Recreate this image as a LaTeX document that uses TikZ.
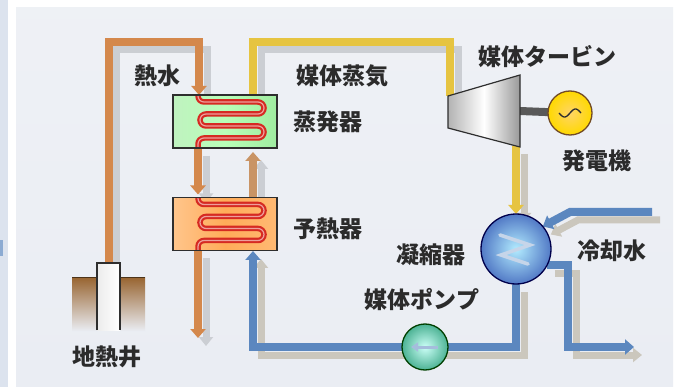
\documentclass[tikz,border=0pt]{standalone}
\usepackage{fontspec}
\newfontfamily\jp{Noto Sans CJK JP}
\usetikzlibrary{arrows.meta,calc}

\definecolor{panelc}{HTML}{EAEDF3}
\definecolor{stripc}{HTML}{DCE3EE}
\definecolor{hotc}{HTML}{D4884C}
\definecolor{medc}{HTML}{C99465}
\definecolor{vapc}{HTML}{E6C441}
\definecolor{bluec}{HTML}{5B87BF}
\definecolor{shadc}{HTML}{CBCED3}
\definecolor{shadtan}{HTML}{CBC7BD}
\definecolor{txtc}{HTML}{2B2B2B}
\definecolor{edgec}{HTML}{2E2E2E}
\definecolor{coilc}{HTML}{D62A22}

\tikzset{
  pipe/.style={line width=8pt, line cap=butt, line join=miter},
  shade pipe/.style={line width=7pt, line cap=butt, line join=miter, transform canvas={xshift=8pt, yshift=-8pt}},
  tipped/.style={-{Triangle[width=15pt,length=9pt]}},
  shtipped/.style={-{Triangle[width=14pt,length=9pt]}},
  hxbox/.style={draw=edgec, line width=1.2pt, minimum width=104pt, minimum height=53pt, inner sep=0pt, outer sep=0pt},
  coil/.style={draw=coilc, line width=5.5pt, rounded corners=6pt, line cap=butt},
  coillight/.style={draw=coilc!45!white, line width=1.2pt, rounded corners=6pt},
  lbl/.style={font=\jp\bfseries\fontsize{23}{25}\selectfont, text=txtc, inner sep=0pt},
  disc/.style={circle, draw=edgec, line width=1.3pt, inner sep=0pt, outer sep=0pt}
}

% serpentine tube inside a heat exchanger box
\newcommand\coilpath[1]{($(#1.north west)+(25,0)$) -- ++(0,7) -- ++(66,0) -- ++(0,12) -- ++(-64,0) -- ++(0,12) -- ++(64,0) -- ++(0,12) -- ++(-66,0) -- ++(0,10)}

\begin{document}
\begin{tikzpicture}[x=1pt,y=-1pt]
\useasboundingbox (0,0) rectangle (685,387);

% page and panel
\fill[white] (0,0) rectangle (685,387);
\fill[stripc] (0,0) rectangle (8,387);
\fill[bluec!70!white] (0,240) rectangle (3,256);
\shade[top color=panelc!80!white, bottom color=panelc] (16,8) rectangle (673,387);

% fixed points of the piping
\coordinate (hwB) at (199,42);
\coordinate (evapIn) at (199,95);
\coordinate (vapA) at (253,42);
\coordinate (vapB) at (450,42);
\coordinate (turbIn) at (450,96);
\coordinate (turbOut) at (516,146);
\coordinate (preBot) at (253,251);
\coordinate (cwIn) at (652,212);
\coordinate (cwBend) at (570,212);
\coordinate (cwDown) at (568,347);
\coordinate (cwOut) at (634,347);
\coordinate (hwOut) at (198,338);

% equipment nodes (drawn later, placed now)
\path (225,121.5) node[minimum width=104pt, minimum height=53pt, inner sep=0pt, outer sep=0pt] (evap) {};
\path (225,224) node[minimum width=104pt, minimum height=53pt, inner sep=0pt, outer sep=0pt] (pre) {};
\path (516,249) node[circle, minimum size=70pt, inner sep=0pt, outer sep=0pt] (cond) {};
\path (425,347) node[circle, minimum size=46pt, inner sep=0pt, outer sep=0pt] (pump) {};
\path (570,113) node[circle, minimum size=44pt, inner sep=0pt, outer sep=0pt] (gen) {};
\path (108.5,296.5) node[minimum width=23pt, minimum height=67pt, inner sep=0pt, outer sep=0pt] (well) {};

% ---- shadows of the pipes ----
\draw[shade pipe, draw=shadc, shtipped] (well.north) |- (hwB) -- (evapIn);
\draw[shade pipe, draw=shadc, shtipped] ($(evap.south west)+(25,0)$) -- ($(pre.north west)+(25,-3)$);
\draw[shade pipe, draw=shadc, shtipped] ($(pre.south west)+(25,0)$) -- (hwOut);
\draw[shade pipe, draw=shadc, shtipped] (pre.north -| preBot) -- ($(evap.south -| preBot)+(0,4)$);
\draw[shade pipe, draw=shadc] (evap.north -| vapA) -- (vapA) -- (vapB) -- (turbIn);
\draw[shade pipe, draw=shadtan, shtipped] (turbOut) -- (cond.north);
\draw[shade pipe, draw=shadtan, shtipped] (cond.south) |- (pump.center) -| (preBot);
\draw[shade pipe, draw=shadtan, shtipped] (cwIn) -- (cwBend) -- (cond.40);
\draw[shade pipe, draw=shadtan, shtipped] (cond.-28) -| (cwDown) -- (cwOut);

% ---- pipes ----
% hot water from the well to the evaporator, preheater and back down
\draw[pipe, draw=hotc, tipped] (well.north) |- (hwB) -- (evapIn);
\draw[pipe, draw=hotc, tipped] ($(evap.south west)+(25,0)$) -- ($(pre.north west)+(25,-3)$);
\draw[pipe, draw=hotc, tipped] ($(pre.south west)+(25,0)$) -- (hwOut);
% heated medium rising to the evaporator
\draw[pipe, draw=medc, tipped] (pre.north -| preBot) -- ($(evap.south -| preBot)+(0,4)$);
% medium vapour to the turbine and on to the condenser
\draw[pipe, draw=vapc] (evap.north -| vapA) -- (vapA) -- (vapB) -- (turbIn);
\draw[pipe, draw=vapc, tipped] (turbOut) -- (cond.north);
% condensate through the pump back to the preheater
\draw[pipe, draw=bluec, tipped] (cond.south) |- (pump.center) -| (preBot);
% cooling water
\draw[pipe, draw=bluec, tipped] (cwIn) -- (cwBend) -- (cond.40);
\draw[pipe, draw=bluec, tipped] (cond.-28) -| (cwDown) -- (cwOut);

% ---- heat exchangers ----
\node[hxbox, left color=green!22!white!90!gray, right color=green!35!white!85!gray, middle color=green!28!white] at (evap) {};
\node[hxbox, left color=orange!45!white, right color=orange!55!white, middle color=orange!65!white] at (pre) {};
\draw[coil] \coilpath{evap};
\draw[coillight] \coilpath{evap};
\draw[coil] \coilpath{pre};
\draw[coillight] \coilpath{pre};
\node[hxbox, draw=edgec, fill=none] at (evap) {};
\node[hxbox, draw=edgec, fill=none] at (pre) {};

% ---- turbine, shaft, generator ----
\draw[line width=8pt, draw=gray!70!black] (520,111) -- (gen.center);
\shade[left color=gray!60, right color=gray!80, middle color=white, draw=edgec, line width=1.2pt]
  (448,96) -- (520,75) -- (520,147) -- (448,128) -- cycle;
\node[disc, draw=brown!60!black, inner color=yellow!45!orange!60!white, outer color=yellow!70!orange, minimum size=44pt] at (gen) {};
\draw[line width=1.3pt, edgec] plot[domain=-11:11, samples=40] ({570+\x}, {113-4*sin(\x*16.4)});

% ---- condenser ----
\node[disc, draw=blue!30!black, inner color=blue!25!cyan!30!white, outer color=bluec!90!blue, minimum size=70pt] at (cond) {};
\draw[line width=3.5pt, draw=bluec!35!white, line join=miter, line cap=round]
  (500,235) -- (530,245) -- (501,255) -- (528,264);

% ---- feed pump ----
\node[disc, draw=green!25!black, inner color=green!15!cyan!20!white, outer color=green!30!cyan!40!gray, minimum size=46pt] at (pump) {};
\draw[line width=3pt, draw=bluec!55!white, -{Triangle[width=9pt,length=7pt]}] (438,347) -- (411,347);

% ---- production well ----
\shade[top color=brown!80!black, middle color=orange!55!brown!80!white, bottom color=panelc] (72,278) rectangle (97,331);
\shade[top color=brown!80!black, middle color=orange!55!brown!80!white, bottom color=panelc] (120,278) rectangle (145,331);
\draw[line width=1pt, brown!40!black] (72,278) -- (97,278) (120,278) -- (145,278);
\shade[left color=gray!15, right color=white] (well.south west) rectangle (well.north east);
\draw[line width=1.3pt, edgec] (well.south west) -- (well.north west) -- (well.north east) -- (well.south east);

% ---- labels ----
\node[lbl] (lHot) at (157,76) {熱水};
\node[lbl] (lVap) at (342,76) {媒体蒸気};
\node[lbl] (lEvap) at (328,122) {蒸発器};
\node[lbl] (lPre) at (328,229) {予熱器};
\node[lbl] (lTurb) at (547,57) {媒体タービン};
\node[lbl] (lGen) at (597,161) {発電機};
\node[lbl] (lCond) at (431,255) {凝縮器};
\node[lbl] (lCool) at (612,251) {冷却水};
\node[lbl] (lPump) at (422,300) {媒体ポンプ};
\node[lbl] (lWell) at (107,357) {地熱井};
\end{tikzpicture}
\end{document}
